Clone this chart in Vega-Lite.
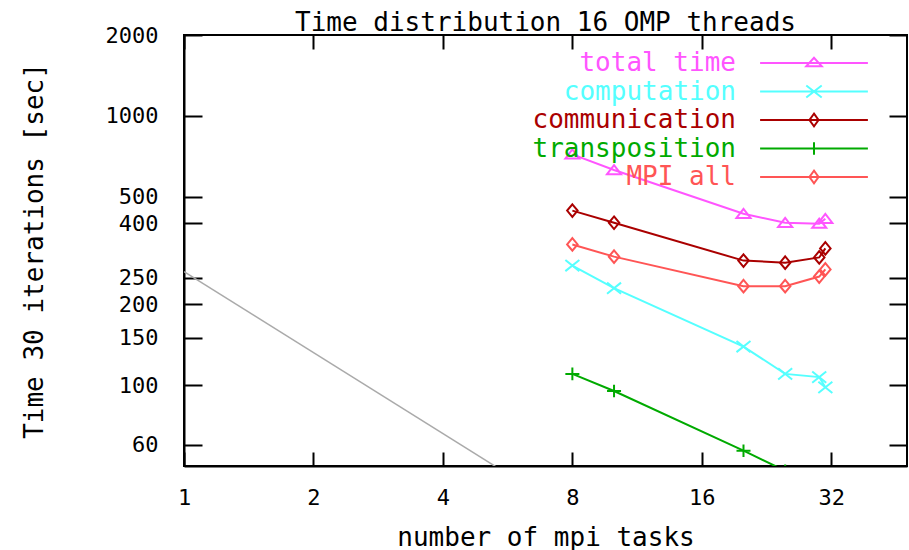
{
  "$schema": "https://vega.github.io/schema/vega-lite/v6.json",
  "width": 723,
  "height": 431,
  "autosize": {"type": "none"},
  "padding": {"left": 184, "top": 35, "right": 2, "bottom": 84},
  "background": "white",
  "title": {"text": "Time distribution 16 OMP threads", "fontSize": 26, "font": "DejaVu Sans Mono", "fontWeight": "normal", "color": "black", "offset": -12, "anchor": "middle"},
  "config": {
    "font": "DejaVu Sans Mono",
    "view": {"stroke": "black", "strokeWidth": 2},
    "axis": {"grid": false, "domainColor": "black", "domainWidth": 2, "tickColor": "black", "tickWidth": 2, "labelColor": "black", "labelFontSize": 22, "labelFont": "DejaVu Sans Mono", "titleFont": "DejaVu Sans Mono", "titleFontSize": 26, "titleFontWeight": "normal", "titleColor": "black", "labelFlush": false, "format": "d"}
  },
  "datasets": {
    "series": [
      {"series": "total time", "tasks": 8, "time": 720},
      {"series": "total time", "tasks": 10, "time": 630},
      {"series": "total time", "tasks": 20, "time": 433},
      {"series": "total time", "tasks": 25, "time": 401},
      {"series": "total time", "tasks": 30, "time": 398},
      {"series": "total time", "tasks": 31, "time": 415},
      {"series": "computation", "tasks": 8, "time": 278},
      {"series": "computation", "tasks": 10, "time": 229},
      {"series": "computation", "tasks": 20, "time": 139},
      {"series": "computation", "tasks": 25, "time": 110},
      {"series": "computation", "tasks": 30, "time": 107},
      {"series": "computation", "tasks": 31, "time": 98},
      {"series": "communication", "tasks": 8, "time": 445},
      {"series": "communication", "tasks": 10, "time": 401},
      {"series": "communication", "tasks": 20, "time": 290},
      {"series": "communication", "tasks": 25, "time": 285},
      {"series": "communication", "tasks": 30, "time": 298},
      {"series": "communication", "tasks": 31, "time": 322},
      {"series": "transposition", "tasks": 8, "time": 110},
      {"series": "transposition", "tasks": 10, "time": 95},
      {"series": "transposition", "tasks": 20, "time": 57},
      {"series": "transposition", "tasks": 25, "time": 48},
      {"series": "transposition", "tasks": 30, "time": 45},
      {"series": "transposition", "tasks": 31, "time": 44},
      {"series": "MPI all", "tasks": 8, "time": 333},
      {"series": "MPI all", "tasks": 10, "time": 300},
      {"series": "MPI all", "tasks": 20, "time": 233},
      {"series": "MPI all", "tasks": 25, "time": 233},
      {"series": "MPI all", "tasks": 30, "time": 253},
      {"series": "MPI all", "tasks": 31, "time": 269}
    ],
    "ideal": [
      {"tasks": 1, "time": 264},
      {"tasks": 48, "time": 5.5}
    ]
  },
  "layer": [
    {
      "data": {"name": "ideal"},
      "mark": {"type": "line", "color": "#aaaaaa", "strokeWidth": 1.5, "clip": true},
      "encoding": {
        "x": {"field": "tasks", "type": "quantitative", "scale": {"type": "log", "base": 2, "domain": [1, 48], "nice": false},
              "axis": {"orient": "top", "labels": false, "title": null, "values": [1, 2, 4, 8, 16, 32], "tickSize": -14, "domain": false}},
        "y": {"field": "time", "type": "quantitative", "scale": {"type": "log", "domain": [50, 2000], "nice": false},
              "axis": {"orient": "right", "labels": false, "title": null, "values": [60, 100, 150, 200, 250, 400, 500, 1000, 2000], "tickSize": -18, "domain": false}}
      }
    },
    {
      "data": {"name": "series"},
      "mark": {"type": "line", "strokeWidth": 2, "clip": true},
      "encoding": {
        "x": {"field": "tasks", "type": "quantitative",
              "axis": {"orient": "bottom", "title": "number of mpi tasks", "values": [1, 2, 4, 8, 16, 32], "tickSize": -14, "labelPadding": 35, "titlePadding": 16}},
        "y": {"field": "time", "type": "quantitative",
              "axis": {"orient": "left", "title": "Time 30 iterations [sec]", "values": [60, 100, 150, 200, 250, 400, 500, 1000, 2000], "tickSize": -18, "labelPadding": 44, "labelBaseline": "middle", "titlePadding": 58}},
        "color": {"field": "series", "type": "nominal",
                  "scale": {"domain": ["total time", "computation", "communication", "transposition", "MPI all"], "range": ["#ff55ff", "#55ffff", "#aa0000", "#00aa00", "#ff5555"]},
                  "legend": {
                    "title": null, "orient": "none", "legendX": 617, "legendY": 15, "padding": 0,
                    "symbolSize": 196, "symbolStrokeWidth": 2,
                    "labelFontSize": 26, "labelFont": "DejaVu Sans Mono", "labelAlign": "right", "labelOffset": -91, "labelLimit": 600, "rowPadding": 2.5,
                    "encode": {
                      "symbols": {
                        "update": {
                          "shape": {"signal": "datum.value === 'total time' ? 'M-7.7,0L7.7,0M-1.1,0.45L0,-0.75L1.1,0.45Z' : datum.value === 'computation' ? 'M-7.7,0L7.7,0M-1.1,-0.85L1.1,0.85M-1.1,0.85L1.1,-0.85' : datum.value === 'transposition' ? 'M-7.7,0L7.7,0M0,-0.9L0,0.9' : 'M-7.7,0L7.7,0M0,-0.9L0.65,0L0,0.9L-0.65,0Z'"},
                          "fill": {"value": "transparent"},
                          "strokeWidth": {"value": 2}
                        }
                      },
                      "labels": {
                        "update": {
                          "fill": {"signal": "scale('color', datum.value)"}
                        }
                      }
                    }
                  }}
      }
    },
    {
      "data": {"name": "series"},
      "transform": [{"filter": "datum.series === 'total time'"}],
      "mark": {"type": "point", "shape": "M-1,0.6L0,-0.7L1,0.6Z", "filled": false, "strokeWidth": 2, "size": 196, "clip": true, "color": "#ff55ff", "opacity": 1},
      "encoding": {
        "x": {"field": "tasks", "type": "quantitative", "axis": null},
        "y": {"field": "time", "type": "quantitative", "axis": null}
      }
    },
    {
      "data": {"name": "series"},
      "transform": [{"filter": "datum.series === 'computation'"}],
      "mark": {"type": "point", "shape": "M-1,-0.8L1,0.8M-1,0.8L1,-0.8", "filled": false, "strokeWidth": 2, "size": 196, "clip": true, "color": "#55ffff", "opacity": 1},
      "encoding": {
        "x": {"field": "tasks", "type": "quantitative", "axis": null},
        "y": {"field": "time", "type": "quantitative", "axis": null}
      }
    },
    {
      "data": {"name": "series"},
      "transform": [{"filter": "datum.series === 'communication'"}],
      "mark": {"type": "point", "shape": "M0,-0.9L0.75,0L0,0.9L-0.75,0Z", "filled": false, "strokeWidth": 2, "size": 196, "clip": true, "color": "#aa0000", "opacity": 1},
      "encoding": {
        "x": {"field": "tasks", "type": "quantitative", "axis": null},
        "y": {"field": "time", "type": "quantitative", "axis": null}
      }
    },
    {
      "data": {"name": "series"},
      "transform": [{"filter": "datum.series === 'transposition'"}],
      "mark": {"type": "point", "shape": "M-1,0L1,0M0,-0.9L0,0.9", "filled": false, "strokeWidth": 2, "size": 196, "clip": true, "color": "#00aa00", "opacity": 1},
      "encoding": {
        "x": {"field": "tasks", "type": "quantitative", "axis": null},
        "y": {"field": "time", "type": "quantitative", "axis": null}
      }
    },
    {
      "data": {"name": "series"},
      "transform": [{"filter": "datum.series === 'MPI all'"}],
      "mark": {"type": "point", "shape": "M0,-0.9L0.75,0L0,0.9L-0.75,0Z", "filled": false, "strokeWidth": 2, "size": 196, "clip": true, "color": "#ff5555", "opacity": 1},
      "encoding": {
        "x": {"field": "tasks", "type": "quantitative", "axis": null},
        "y": {"field": "time", "type": "quantitative", "axis": null}
      }
    }
  ],
  "resolve": {"axis": {"x": "independent", "y": "independent"}}
}
